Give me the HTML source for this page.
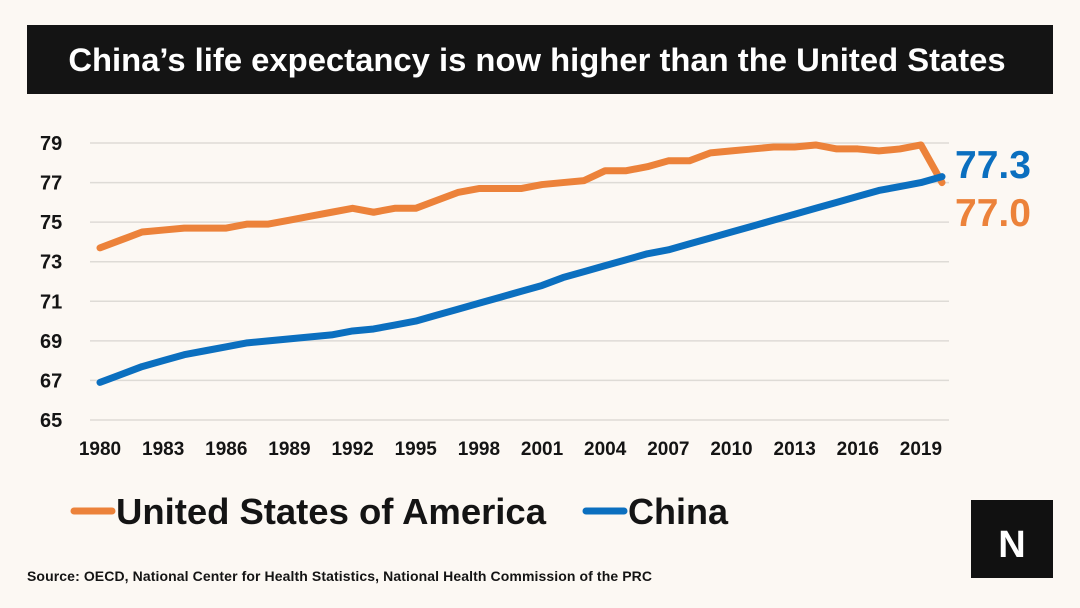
<!DOCTYPE html>
<html><head><meta charset="utf-8"><style>
body{margin:0;background:#fcf8f3;}
svg{display:block;font-family:"Liberation Sans",sans-serif;}
</style></head><body>
<svg width="1080" height="608" viewBox="0 0 1080 608">
<rect width="1080" height="608" fill="#fcf8f3"/>
<rect x="27" y="25" width="1026" height="69" fill="#141414"/>
<text x="537" y="71" text-anchor="middle" fill="#fff" font-size="32.8" font-weight="bold">China’s life expectancy is now higher than the United States</text>
<g id="grid"></g><g id="yt"></g><g id="xt"></g><g id="lines"></g>
<text x="955" y="178" fill="#0b6fbf" font-size="39" font-weight="bold">77.3</text>
<text x="955" y="226" fill="#ec823a" font-size="39" font-weight="bold">77.0</text>
<line x1="74" y1="511" x2="112" y2="511" stroke="#ec823a" stroke-width="7" stroke-linecap="round"/>
<text x="116" y="524" font-size="36.5" font-weight="bold" fill="#141414" textLength="430">United States of America</text>
<line x1="586" y1="511" x2="624" y2="511" stroke="#0b6fbf" stroke-width="7" stroke-linecap="round"/>
<text x="628" y="524" font-size="36" font-weight="bold" fill="#141414">China</text>
<text x="27" y="581" font-size="14" font-weight="bold" fill="#141414" textLength="625">Source: OECD, National Center for Health Statistics, National Health Commission of the PRC</text>
<rect x="971" y="500" width="82" height="78" fill="#111"/>
<text x="1012" y="557" text-anchor="middle" fill="#fff" font-size="38" font-weight="bold">N</text>
</svg>
<script>
const years=[];for(let y=1980;y<=2020;y++)years.push(y);
const usa=[73.7,74.1,74.5,74.6,74.7,74.7,74.7,74.9,74.9,75.1,75.3,75.5,75.7,75.5,75.7,75.7,76.1,76.5,76.7,76.7,76.7,76.9,77.0,77.1,77.6,77.6,77.8,78.1,78.1,78.5,78.6,78.7,78.8,78.8,78.9,78.7,78.7,78.6,78.7,78.9,77.0];
const china=[66.9,67.3,67.7,68.0,68.3,68.5,68.7,68.9,69.0,69.1,69.2,69.3,69.5,69.6,69.8,70.0,70.3,70.6,70.9,71.2,71.5,71.8,72.2,72.5,72.8,73.1,73.4,73.6,73.9,74.2,74.5,74.8,75.1,75.4,75.7,76.0,76.3,76.6,76.8,77.0,77.3];
const yTicks=[65,67,69,71,73,75,77,79];
const xTicks=[1980,1983,1986,1989,1992,1995,1998,2001,2004,2007,2010,2013,2016,2019];
const NS="http://www.w3.org/2000/svg";
const X=y=>100+(y-1980)*21.05;
const Y=v=>420-(v-65)*(277/14);
function mk(t,a,p,txt){const e=document.createElementNS(NS,t);for(const k in a)e.setAttribute(k,a[k]);if(txt!==undefined)e.textContent=txt;document.getElementById(p).appendChild(e);return e;}
yTicks.forEach(v=>{
 const l=mk('line',{x1:90,x2:949,y1:Y(v),y2:Y(v),stroke:'#dedbd6','stroke-width':1.5},'grid');
 
 
 const t=mk('text',{x:40,y:Y(v)+7,'font-size':20,'font-weight':'bold',fill:'#141414'},'yt',v);
 
 
});
xTicks.forEach(v=>{
 const t=mk('text',{x:X(v),y:455,'font-size':19,'font-weight':'bold',fill:'#141414','text-anchor':'middle'},'xt',v);
 
 
});
function line(d,c,n){
 const p=mk('polyline',{points:d.map((v,i)=>X(years[i])+','+Y(v)).join(' '),fill:'none',stroke:c,'stroke-width':7,'stroke-linejoin':'round','stroke-linecap':'round'},'lines');
 
 
}
line(usa,'#ec823a','usa-line');
line(china,'#0b6fbf','china-line');
</script>
</body></html>
